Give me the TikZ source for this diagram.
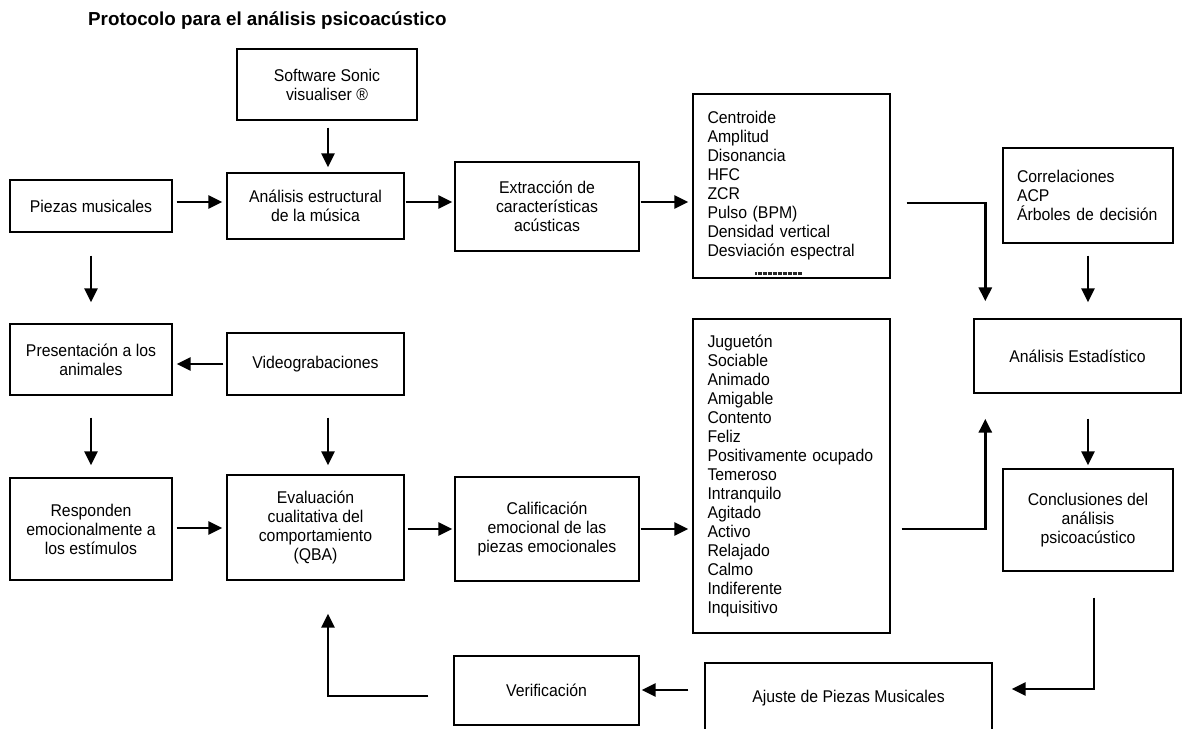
\documentclass[tikz,border=0pt]{standalone}
\usepackage{fontspec}
\setmainfont{Liberation Sans}
\newfontfamily\bodyfont[FakeStretch=0.93]{Liberation Sans}
\usetikzlibrary{arrows.meta}
\begin{document}
\begin{tikzpicture}[x=1pt,y=-1pt,
  box/.style={draw=black, line width=1.4pt, inner sep=0pt, align=center,
    font=\bodyfont\fontsize{17}{19}\selectfont},
  arr/.style={draw=black, line width=2.8pt, -{Triangle[length=14pt,width=13pt]}},
]
\fill[white] (0,0) rectangle (1183,728);
\clip (0,0) rectangle (1183,728);

\node[anchor=base west, inner sep=0pt, font=\bfseries\fontsize{18.8}{22}\selectfont] (title) at (88,25) {Protocolo para el análisis psicoacústico};

\node[box, minimum width=180pt, minimum height=71pt] (soft) at (327,84.5) {Software Sonic\\visualiser ®};
\node[box, minimum width=162pt, minimum height=52pt] (piezas) at (91,206) {Piezas musicales};
\node[box, minimum width=177pt, minimum height=66pt] (aest) at (315.5,206) {Análisis estructural\\de la música};
\node[box, minimum width=184pt, minimum height=89pt] (extr) at (547,206.5) {Extracción de\\características\\acústicas};
\node[box, minimum width=197pt, minimum height=184pt, text width=168pt, align=left] (cent) at (791.5,186)
  {Centroide\\Amplitud\\Disonancia\\HFC\\ZCR\\Pulso (BPM)\\Densidad vertical\\Desviación~espectral};
\node[box, minimum width=170pt, minimum height=95pt, text width=142pt, align=left] (corr) at (1088,195.5)
  {Correlaciones\\ACP\\Árboles~de~decisión};

\node[box, minimum width=162pt, minimum height=71pt] (pres) at (91,359.5) {Presentación a los\\animales};
\node[box, minimum width=177pt, minimum height=62pt] (video) at (315.5,364) {Videograbaciones};
\node[box, minimum width=197pt, minimum height=314pt, text width=168pt, align=left] (jug) at (791.5,476)
  {Juguetón\\Sociable\\Animado\\Amigable\\Contento\\Feliz\\Positivamente~ocupado\\Temeroso\\Intranquilo\\Agitado\\Activo\\Relajado\\Calmo\\Indiferente\\Inquisitivo};
\node[box, minimum width=207pt, minimum height=74pt] (estad) at (1077.5,356) {Análisis Estadístico};

\node[box, minimum width=162pt, minimum height=102pt] (resp) at (91,529) {Responden\\emocionalmente a\\los estímulos};
\node[box, minimum width=177pt, minimum height=105pt] (eval) at (315.5,527.5) {Evaluación\\cualitativa del\\comportamiento\\(QBA)};
\node[box, minimum width=184pt, minimum height=104pt] (calif) at (547,529) {Calificación\\emocional de las\\piezas emocionales};
\node[box, minimum width=170pt, minimum height=102pt] (concl) at (1088,520) {Conclusiones del\\análisis\\psicoacústico};

\node[box, minimum width=185pt, minimum height=69pt] (verif) at (546.5,690.5) {Verificación};
\node[box, minimum width=287pt, minimum height=70pt] (ajuste) at (848.5,698) {Ajuste de Piezas Musicales};

% small scribble under the feature list
\draw[line width=2.6pt, dash pattern=on 2pt off 0.5pt, black!85]
  ([xshift=-36.5pt,yshift=5pt]cent.south) -- ([xshift=10.5pt,yshift=5pt]cent.south);

% connectors
\draw[arr, shorten <=7pt, shorten >=5pt] ([xshift=1pt]soft.south) -- ([xshift=12.5pt]aest.north);
\draw[arr, shorten <=4pt, shorten >=4pt] ([yshift=4pt]piezas.east) -- ([yshift=4pt]aest.west);
\draw[arr, shorten <=1pt, shorten >=2pt] ([yshift=4pt]aest.east) -- ([yshift=4.5pt]extr.west);
\draw[arr, shorten <=1pt, shorten >=4pt] ([yshift=4.5pt]extr.east) -- ([yshift=-16pt]cent.west);
\draw[arr, shorten <=16pt, shorten >=17pt] ([yshift=-17pt]cent.east) -| ([xshift=12pt]estad.north west);
\draw[arr, shorten <=12pt, shorten >=16pt] (corr.south) -- (corr.south |- estad.north);
\draw[arr, shorten <=23pt, shorten >=21pt] (piezas.south) -- (pres.north);
\draw[arr, shorten <=3pt, shorten >=4pt] (video.west) -- (pres.east |- video.west);
\draw[arr, shorten <=22pt, shorten >=12pt] (pres.south) -- (resp.north);
\draw[arr, shorten <=22pt, shorten >=9pt] ([xshift=12.5pt]video.south) -- ([xshift=12.5pt]eval.north);
\draw[arr, shorten <=4pt, shorten >=4pt] ([yshift=1pt]resp.east) -- ([yshift=-0.5pt]eval.west);
\draw[arr, shorten <=3pt, shorten >=2pt] ([yshift=-1.5pt]eval.east) -- (calif.west);
\draw[arr, shorten <=1pt, shorten >=4pt] (calif.east) -- ([yshift=-53pt]jug.west);
\draw[arr, shorten <=11pt, shorten >=25pt] ([yshift=-53pt]jug.east) -| ([xshift=12pt]estad.south west);
\draw[arr, shorten <=25pt, shorten >=3pt] ([xshift=10.5pt]estad.south) -- (concl.north);
\draw[arr, shorten <=26pt, shorten >=19pt] ([xshift=6pt]concl.south) |- ([yshift=9pt]ajuste.east);
\draw[arr, shorten <=16pt, shorten >=2pt] ([yshift=8pt]ajuste.west) -- ([yshift=0.5pt]verif.east);
\draw[arr, shorten <=25pt, shorten >=33pt] ([yshift=-5.5pt]verif.west) -| ([xshift=12.5pt]eval.south);
\end{tikzpicture}
\end{document}
